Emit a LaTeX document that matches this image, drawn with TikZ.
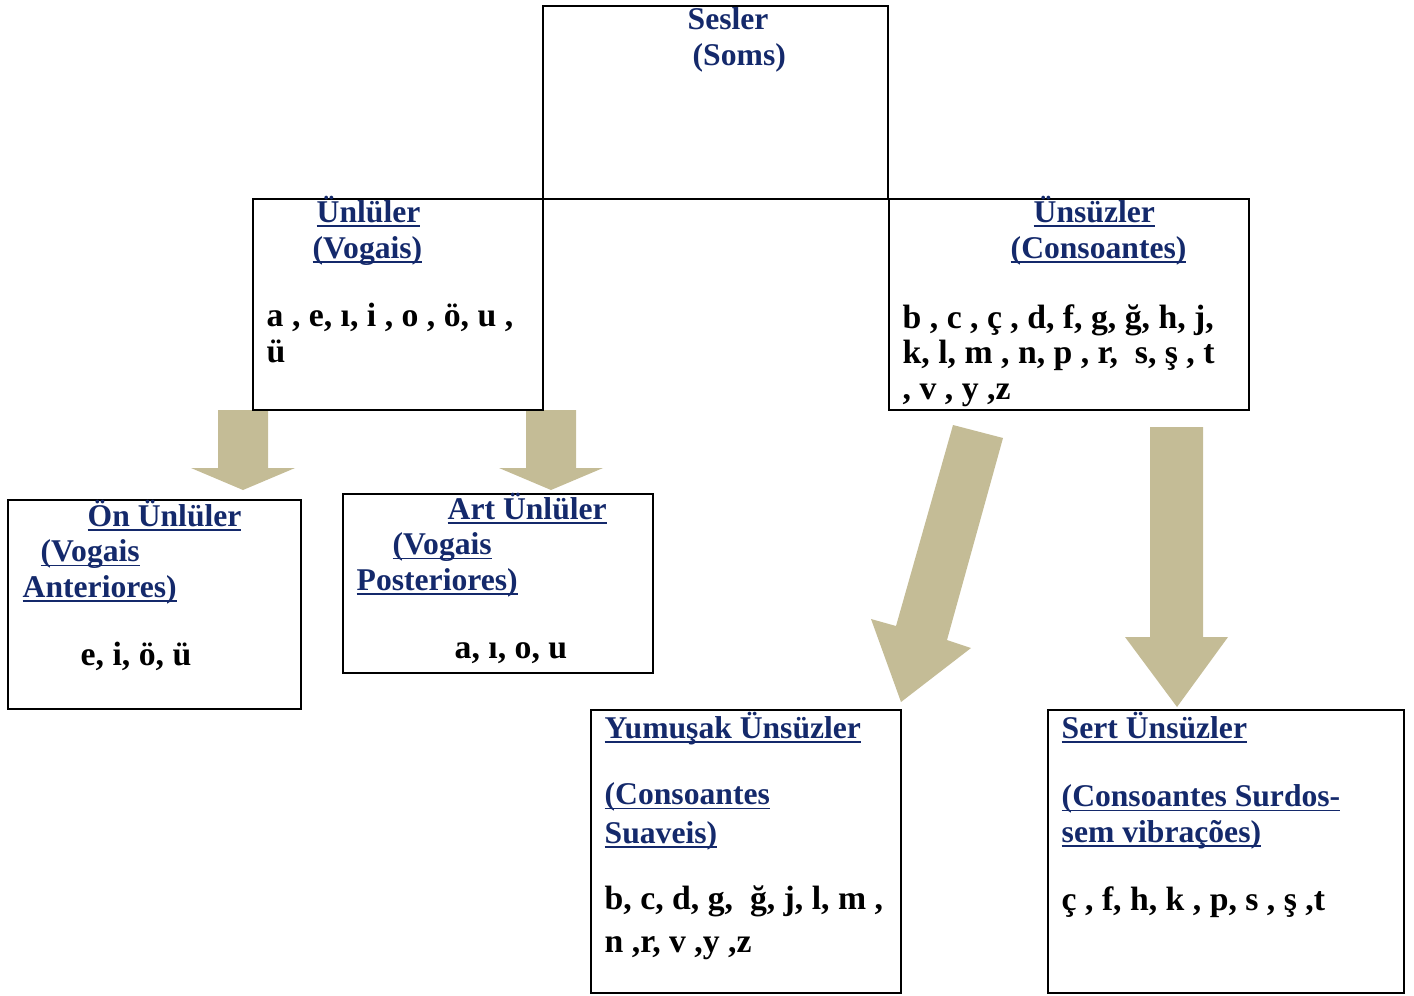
\documentclass[tikz,border=0pt]{standalone}
\usepackage{fontspec}
\setmainfont{Liberation Serif}
\definecolor{titleblue}{HTML}{14296B}
\definecolor{arrowtan}{HTML}{C4BC96}
\newcommand{\ulword}[1]{\setbox0\hbox{#1}\rlap{\rule[-1.3pt]{\wd0}{0.55pt}}\box0}

\tikzset{
  box/.style={draw, line width=0.6pt, anchor=north west, inner sep=0pt},
  head/.style={anchor=base west, inner sep=0pt, align=left, text=titleblue,
    font=\fontsize{9}{10}\selectfont\bfseries},
  sounds/.style={anchor=base west, inner sep=0pt, align=left,
    font=\fontsize{9.6}{10}\selectfont\bfseries},
  bigarrow/.style={fill=arrowtan},
}

\begin{document}
\begin{tikzpicture}[x=0.1mm, y=-0.1mm]
    \useasboundingbox (0,0) rectangle (1414,995);

    % block arrows
    \foreach \x in {243,551}
        \fill[bigarrow] (\x-25,410) -- (\x+25,410) -- (\x+25,468) -- (\x+52,468)
            -- (\x,490) -- (\x-52,468) -- (\x-25,468) -- cycle;
    \fill[bigarrow] (953,425) -- (1003,438) -- (947,640) -- (971,648)
        -- (901,702) -- (871,619) -- (896,626) -- cycle;
    \fill[bigarrow] (1150,427) -- (1203,427) -- (1203,637) -- (1228,637)
        -- (1177,707) -- (1125,637) -- (1150,637) -- cycle;

    % boxes
    \node(sesler)[box, minimum width=34.5mm, minimum height=19.3mm] at (542,5) {};
    \node(unluler)[box, minimum width=29mm, minimum height=21.1mm] at (252,198) {};
    \node(unsuzler)[box, minimum width=36mm, minimum height=21.1mm] at (888,198) {};
    \node(onunluler)[box, minimum width=29.3mm, minimum height=20.9mm] at (7,499) {};
    \node(artunluler)[box, minimum width=31mm, minimum height=17.9mm] at (342,493) {};
    \node(yumusak)[box, minimum width=31mm, minimum height=28.3mm] at (590,709) {};
    \node(sert)[box, minimum width=35.6mm, minimum height=28.3mm] at (1047,709) {};

    % texts (base = last line)
    \node(seslerT)[head] at (687,65) {Sesler\\\hspace*{0.5mm}(Soms)};
    \node(unlulerT)[head] at (312,258) {\hspace*{0.4mm}\ulword{Ünlüler}\\\ulword{(Vogais)}};
    \node(unlulerS)[sounds] at (266,362) {a , e, ı, i , o , ö, u ,\\ü};
    \node(unsuzlerT)[head] at (1010,258) {\hspace*{2.3mm}\ulword{Ünsüzler}\\\ulword{(Consoantes)}};
    \node(unsuzlerS)[sounds] at (902,399)
        {b , c , ç , d, f, g, ğ, h, j,\\k, l, m , n, p , r,\ \ s, ş , t\\, v , y ,z};
    \node(onunlulerT)[head] at (22,597)
        {\hspace*{6.5mm}\ulword{Ön Ünlüler}\\\hspace*{1.8mm}\ulword{(Vogais}\\\ulword{Anteriores)}};
    \node(onunlulerS)[sounds] at (80,665) {e, i, ö, ü};
    \node(artunlulerT)[head] at (356,590)
        {\hspace*{9.1mm}\ulword{Art Ünlüler}\\\hspace*{3.6mm}\ulword{(Vogais}\\\ulword{Posteriores)}};
    \node(artunlulerS)[sounds] at (454,658) {a, ı, o, u};
    \node(yumusakT)[head] at (604,738) {\ulword{Yumuşak Ünsüzler}};
    \node(yumusakT2)[head] at (604,843) {\ulword{(Consoantes}\\[0.3mm]\ulword{Suaveis)}};
    \node(yumusakS)[sounds] at (604,952) {b, c, d, g,\ \ ğ, j, l, m ,\\[0.7mm]n ,r, v ,y ,z};
    \node(sertT)[head] at (1061,738) {\ulword{Sert Ünsüzler}};
    \node(sertT2)[head] at (1061,842) {\ulword{(Consoantes Surdos-}\\\ulword{sem vibrações)}};
    \node(sertS)[sounds] at (1061,910) {ç , f, h, k , p, s , ş ,t};
\end{tikzpicture}
\end{document}
